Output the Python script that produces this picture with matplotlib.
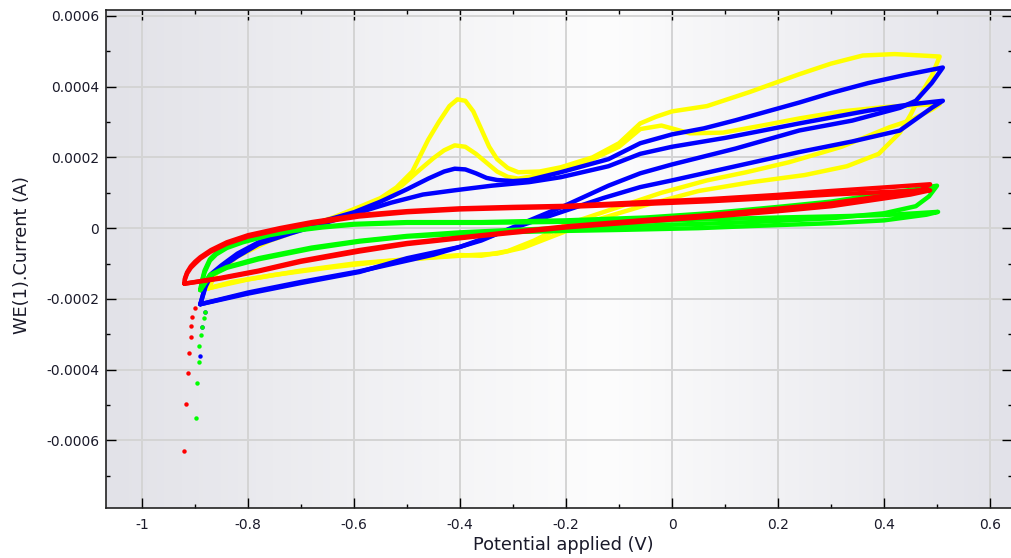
# Cyclic voltammogram - WE(1).Current vs potential, 4 runs with 2 cycles each

import matplotlib
matplotlib.use('Agg')
import matplotlib.pyplot as plt
import numpy as np
from matplotlib.colors import LinearSegmentedColormap
from matplotlib.ticker import MultipleLocator, FuncFormatter

plt.rcParams['font.family'] = 'DejaVu Sans'
plt.rcParams['axes.unicode_minus'] = False

# current values are in units of 1e-4 A
I_UNIT = 1e-4

# yellow run
yellow_c1_v = [-0.875, -0.86, -0.82, -0.76, -0.70, -0.64, -0.59, -0.55, -0.52, -0.49,
               -0.46, -0.44, -0.42, -0.405, -0.39, -0.375, -0.36, -0.345, -0.33, -0.31,
               -0.29, -0.25, -0.21, -0.15, -0.10, -0.06, -0.03, 0.0, 0.066, 0.147,
               0.24, 0.30, 0.36, 0.42, 0.47, 0.505,
               0.49, 0.47, 0.45, 0.43, 0.39, 0.33, 0.25, 0.15, 0.05, -0.05,
               -0.15, -0.22, -0.28, -0.33, -0.40, -0.50, -0.60, -0.70, -0.80, -0.875]
yellow_c1_i = [-1.7, -1.25, -0.75, -0.3, 0.0, 0.3, 0.6, 0.85, 1.15, 1.6,
               2.5, 3.0, 3.45, 3.64, 3.6, 3.3, 2.8, 2.3, 1.95, 1.7,
               1.58, 1.6, 1.72, 2.0, 2.4, 2.96, 3.15, 3.3, 3.45, 3.85,
               4.35, 4.65, 4.88, 4.92, 4.88, 4.85,
               4.3, 3.8, 3.2, 2.7, 2.1, 1.75, 1.5, 1.3, 1.05, 0.65,
               0.2, -0.2, -0.55, -0.72, -0.78, -0.88, -1.0, -1.2, -1.45, -1.7]
yellow_c2_v = [-0.875, -0.86, -0.82, -0.76, -0.70, -0.64, -0.59, -0.55, -0.51, -0.48,
               -0.45, -0.43, -0.41, -0.39, -0.37, -0.35, -0.33, -0.31, -0.29, -0.25,
               -0.20, -0.15, -0.10, -0.06, -0.02, 0.034, 0.096, 0.17, 0.24, 0.32,
               0.40, 0.45, 0.505,
               0.49, 0.45, 0.41, 0.32, 0.22, 0.14, 0.066, -0.02, -0.10, -0.20,
               -0.26, -0.31, -0.36, -0.40, -0.45, -0.55, -0.65, -0.75, -0.83, -0.875]
yellow_c2_i = [-1.7, -1.28, -0.8, -0.36, -0.05, 0.25, 0.55, 0.8, 1.2, 1.6,
               1.98, 2.2, 2.34, 2.3, 2.1, 1.85, 1.6, 1.45, 1.4, 1.5,
               1.7, 1.95, 2.3, 2.8, 2.9, 2.68, 2.7, 2.9, 3.1, 3.3,
               3.42, 3.47, 3.5,
               3.35, 3.05, 2.85, 2.3, 1.86, 1.58, 1.35, 1.0, 0.6, 0.1,
               -0.35, -0.65, -0.78, -0.76, -0.82, -0.95, -1.12, -1.32, -1.52, -1.7]

# blue run
blue_c1_v = [-0.89, -0.88, -0.87, -0.85, -0.82, -0.78, -0.73, -0.67, -0.60, -0.55,
             -0.50, -0.46, -0.43, -0.41, -0.39, -0.37, -0.35, -0.33, -0.30, -0.27,
             -0.21, -0.12, -0.06, 0.0, 0.06, 0.12, 0.18, 0.24, 0.30, 0.37,
             0.44, 0.511,
             0.49, 0.46, 0.43, 0.34, 0.24, 0.12, 0.0, -0.06, -0.12, -0.20,
             -0.28, -0.36, -0.45, -0.59, -0.70, -0.80, -0.89]
blue_c1_i = [-2.15, -1.6, -1.3, -1.05, -0.72, -0.4, -0.12, 0.15, 0.45, 0.75,
             1.1, 1.4, 1.6, 1.68, 1.66, 1.55, 1.42, 1.36, 1.33, 1.36,
             1.58, 1.95, 2.4, 2.65, 2.82, 3.05, 3.3, 3.55, 3.82, 4.1,
             4.33, 4.54,
             4.1, 3.6, 3.4, 3.04, 2.76, 2.25, 1.8, 1.55, 1.2, 0.65,
             0.15, -0.35, -0.75, -1.22, -1.52, -1.82, -2.15]
blue_c2_v = [-0.89, -0.88, -0.87, -0.85, -0.82, -0.78, -0.72, -0.66, -0.60, -0.53,
             -0.47, -0.41, -0.34, -0.27, -0.21, -0.12, -0.06, 0.0, 0.10, 0.24,
             0.37, 0.45, 0.511,
             0.49, 0.43, 0.34, 0.24, 0.12, 0.0, -0.06, -0.13, -0.20, -0.30,
             -0.40, -0.50, -0.59, -0.70, -0.80, -0.89]
blue_c2_i = [-2.15, -1.65, -1.35, -1.1, -0.8, -0.45, -0.15, 0.12, 0.4, 0.72,
             0.95, 1.07, 1.2, 1.3, 1.44, 1.75, 2.1, 2.3, 2.55, 2.96,
             3.32, 3.5, 3.6,
             3.4, 2.76, 2.45, 2.15, 1.75, 1.35, 1.16, 0.85, 0.5, 0.0,
             -0.53, -0.85, -1.24, -1.55, -1.85, -2.15]

# green run
green_c1_v = [-0.89, -0.887, -0.882, -0.872, -0.86, -0.84, -0.81, -0.76, -0.715, -0.66,
              -0.60, -0.50, -0.36, -0.20, -0.05, 0.07, 0.20, 0.30, 0.40, 0.46,
              0.50,
              0.485, 0.46, 0.40, 0.30, 0.15, 0.05, -0.10, -0.21, -0.30, -0.40,
              -0.50, -0.59, -0.68, -0.78, -0.84, -0.872, -0.89]
green_c1_i = [-1.75, -1.5, -1.2, -0.88, -0.7, -0.52, -0.36, -0.17, -0.06, 0.04,
              0.12, 0.17, 0.17, 0.22, 0.3, 0.42, 0.6, 0.75, 0.98, 1.1,
              1.2,
              0.9, 0.62, 0.42, 0.28, 0.17, 0.12, 0.05, 0.0, -0.05, -0.12,
              -0.22, -0.36, -0.55, -0.85, -1.1, -1.32, -1.75]
green_c2_v = [-0.89, -0.887, -0.882, -0.872, -0.86, -0.84, -0.81, -0.76, -0.715, -0.66,
              -0.60, -0.50, -0.36, -0.20, -0.05, 0.07, 0.20, 0.30, 0.40, 0.46,
              0.502,
              0.48, 0.40, 0.30, 0.15, 0.05, -0.10, -0.21, -0.36, -0.50, -0.59,
              -0.68, -0.78, -0.84, -0.872, -0.89]
green_c2_i = [-1.75, -1.52, -1.25, -0.92, -0.74, -0.56, -0.4, -0.2, -0.08, 0.02,
              0.1, 0.15, 0.15, 0.18, 0.2, 0.25, 0.3, 0.33, 0.37, 0.42,
              0.46,
              0.38, 0.22, 0.14, 0.06, 0.0, -0.05, -0.08, -0.13, -0.24, -0.38,
              -0.58, -0.88, -1.12, -1.35, -1.75]

# red run
red_c1_v = [-0.92, -0.919, -0.915, -0.908, -0.90, -0.89, -0.87, -0.84, -0.80, -0.74,
            -0.68, -0.59, -0.50, -0.40, -0.30, -0.20, -0.06, 0.07, 0.20, 0.30,
            0.40, 0.487,
            0.47, 0.44, 0.30, 0.20, 0.07, -0.06, -0.20, -0.36, -0.50, -0.59,
            -0.70, -0.78, -0.85, -0.92]
red_c1_i = [-1.57, -1.42, -1.25, -1.08, -0.95, -0.82, -0.62, -0.4, -0.2, 0.0,
            0.17, 0.37, 0.48, 0.56, 0.6, 0.63, 0.73, 0.82, 0.94, 1.05,
            1.15, 1.24,
            1.08, 1.0, 0.7, 0.55, 0.37, 0.22, 0.05, -0.2, -0.42, -0.62,
            -0.92, -1.2, -1.4, -1.57]
red_c2_v = [-0.92, -0.919, -0.915, -0.908, -0.90, -0.89, -0.87, -0.84, -0.80, -0.74,
            -0.68, -0.59, -0.50, -0.40, -0.30, -0.20, -0.06, 0.07, 0.20, 0.30,
            0.40, 0.487,
            0.45, 0.30, 0.20, 0.07, -0.06, -0.20, -0.36, -0.50, -0.59, -0.70,
            -0.78, -0.85, -0.92]
red_c2_i = [-1.57, -1.44, -1.28, -1.12, -1.0, -0.86, -0.66, -0.44, -0.24, -0.04,
            0.13, 0.33, 0.45, 0.53, 0.57, 0.6, 0.68, 0.76, 0.86, 0.95,
            1.02, 1.07,
            0.95, 0.62, 0.48, 0.32, 0.18, 0.02, -0.22, -0.45, -0.66, -0.95,
            -1.22, -1.42, -1.57]

# sparse points at the start of each scan
red_tail_v = [-0.901, -0.905, -0.908, -0.908, -0.911, -0.914, -0.917, -0.920]
red_tail_i = [-2.26, -2.5, -2.76, -3.07, -3.52, -4.1, -4.96, -6.3]
green_tail_v = [-0.881, -0.884, -0.886, -0.889, -0.893, -0.893, -0.896, -0.899]
green_tail_i = [-2.36, -2.54, -2.78, -3.03, -3.34, -3.79, -4.37, -5.36]
blue_tail_v = [-0.882, -0.886, -0.890]
blue_tail_i = [-2.36, -2.79, -3.6]

runs = [
    ('#ffff00', [(yellow_c1_v, yellow_c1_i), (yellow_c2_v, yellow_c2_i)], None),
    ('#0000ff', [(blue_c1_v, blue_c1_i), (blue_c2_v, blue_c2_i)], (blue_tail_v, blue_tail_i)),
    ('#00ff00', [(green_c1_v, green_c1_i), (green_c2_v, green_c2_i)], (green_tail_v, green_tail_i)),
    ('#ff0000', [(red_c1_v, red_c1_i), (red_c2_v, red_c2_i)], (red_tail_v, red_tail_i)),
]

fig = plt.figure(figsize=(10.12, 5.58), dpi=100)
ax = fig.add_axes([106 / 1012, 1 - 508 / 558, 906 / 1012, 498.5 / 558])

xmin, xmax = -1.068, 0.6415
ymin, ymax = -0.000791, 0.000618

# background gradient: grey at the sides, white in the middle
bg = LinearSegmentedColormap.from_list('bg', [(0.0, '#e2e2e8'), (0.55, '#fdfdfd'), (1.0, '#e2e2e9')])
ax.imshow(np.linspace(0, 1, 256).reshape(1, -1), cmap=bg, aspect='auto',
          extent=[xmin, xmax, ymin, ymax], zorder=0, interpolation='bicubic')

for color, cycles, tail in runs:
    for v, i in cycles:
        ax.plot(v, np.array(i) * I_UNIT, color=color, lw=3.2, solid_joinstyle='round',
                solid_capstyle='round', zorder=3)
    if tail is not None:
        ax.plot(tail[0], np.array(tail[1]) * I_UNIT, 'o', color=color, ms=3.2, mew=0, zorder=3)

ax.set_xlim(xmin, xmax)
ax.set_ylim(ymin, ymax)

ax.xaxis.set_major_locator(MultipleLocator(0.2))
ax.xaxis.set_minor_locator(MultipleLocator(0.1))
ax.yaxis.set_major_locator(MultipleLocator(0.0002))
ax.yaxis.set_minor_locator(MultipleLocator(0.0001))
fmt = FuncFormatter(lambda val, pos: f"{round(val, 6):g}" if abs(val) > 1e-9 else "0")
ax.xaxis.set_major_formatter(fmt)
ax.yaxis.set_major_formatter(fmt)

ax.grid(True, which='major', color='#d4d4d4', lw=1.4)
ax.set_axisbelow(True)

ax.tick_params(which='both', direction='in', top=True, right=True, colors='black',
               labelcolor='#1a1a2a', labelsize=10)
ax.tick_params(which='major', length=7, width=1)
ax.tick_params(which='minor', length=3, width=1)
ax.tick_params(axis='y', pad=5)
ax.tick_params(axis='x', pad=7)

for s in ax.spines.values():
    s.set_color('#222222')
    s.set_linewidth(1.2)

fig.text(563 / 1012, 1 - 545 / 558, 'Potential applied (V)', ha='center', va='center',
         fontsize=12.8, color='#1a1a2a')
fig.text(22 / 1012, 1 - 255 / 558, 'WE(1).Current (A)', ha='center', va='center',
         rotation=90, fontsize=12.8, color='#1a1a2a')

fig.savefig('out.png', dpi=100)
